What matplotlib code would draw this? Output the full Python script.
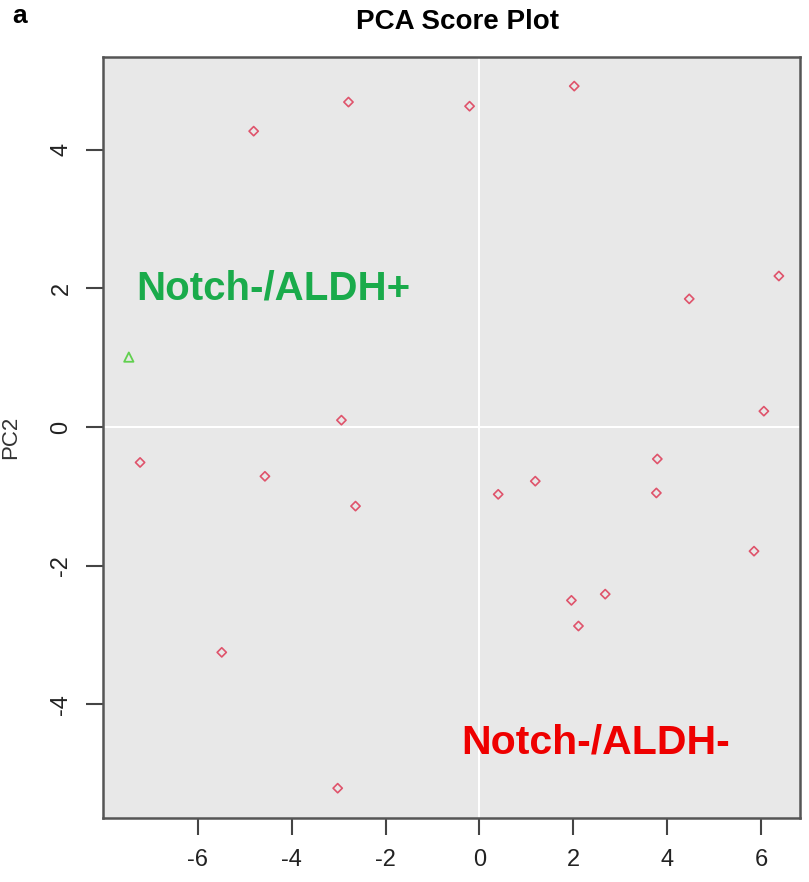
import matplotlib.pyplot as plt
import numpy as np

plt.rcParams['font.family'] = ['Liberation Sans', 'DejaVu Sans']

# PCA scores
pc1_neg = [-4.81, -2.79, -0.21, 2.02, 6.38, 4.47, 6.06, -2.94, -7.23, -4.57, -2.64,
           0.40, 1.19, 3.79, 3.77, 5.85, 1.96, 2.68, 2.11, -5.49, -3.02]
pc2_neg = [4.27, 4.69, 4.63, 4.92, 2.18, 1.85, 0.23, 0.10, -0.51, -0.71, -1.14,
           -0.97, -0.78, -0.46, -0.95, -1.79, -2.50, -2.41, -2.87, -3.25, -5.21]
pc1_pos = [-7.47]
pc2_pos = [1.01]

xticks = [-6, -4, -2, 0, 2, 4, 6]
yticks = [-4, -2, 0, 2, 4]

fig = plt.figure(figsize=(8.09, 8.82), dpi=100)
ax = fig.add_axes([103 / 809, 1 - 818 / 882, (800 - 103) / 809, (818 - 57) / 882])
ax.set_facecolor('#e8e8e8')

ax.axhline(0, color='white', lw=1.5, zorder=1)
ax.axvline(0, color='white', lw=1.5, zorder=1)

ax.scatter(pc1_neg, pc2_neg, marker='D', s=22, facecolors='none',
           edgecolors='#df536b', linewidths=1.2, zorder=3)
ax.scatter(pc1_pos, pc2_pos, marker='^', s=45, facecolors='none',
           edgecolors='#61d04f', linewidths=1.3, zorder=3)

ax.text(-7.32, 2.0, 'Notch-/ALDH+', color='#1aab4b', fontsize=29,
        fontweight='bold', va='center', ha='left')
ax.text(-0.38, -4.55, 'Notch-/ALDH-', color='#ee0000', fontsize=29.5,
        fontweight='bold', va='center', ha='left')

ax.set_xlim(-8.02, 6.83)
ax.set_ylim(-5.64, 5.34)
ax.set_xticks(xticks)
ax.set_yticks(yticks)
ax.set_xticklabels([str(t) for t in xticks], fontsize=17, color='#222222')
ax.set_yticklabels([str(t) for t in yticks], fontsize=17, color='#222222',
                   rotation=90, va='center')
ax.tick_params(length=12, width=1.5, color='#444444', pad=10)
for s in ax.spines.values():
    s.set_color('#555555')
    s.set_linewidth(1.8)

ax.set_ylabel('PC2', fontsize=16, color='#333333')
ax.yaxis.set_label_coords(-82 / 697, 0.5)

fig.text(458 / 809, 1 - 22 / 882, 'PCA Score Plot', fontsize=20, fontweight='bold',
         ha='center', va='center')
fig.text(12 / 809, 1 - 16 / 882, 'a', fontsize=19, fontweight='bold',
         ha='left', va='center')

fig.savefig('out.png', dpi=100)
